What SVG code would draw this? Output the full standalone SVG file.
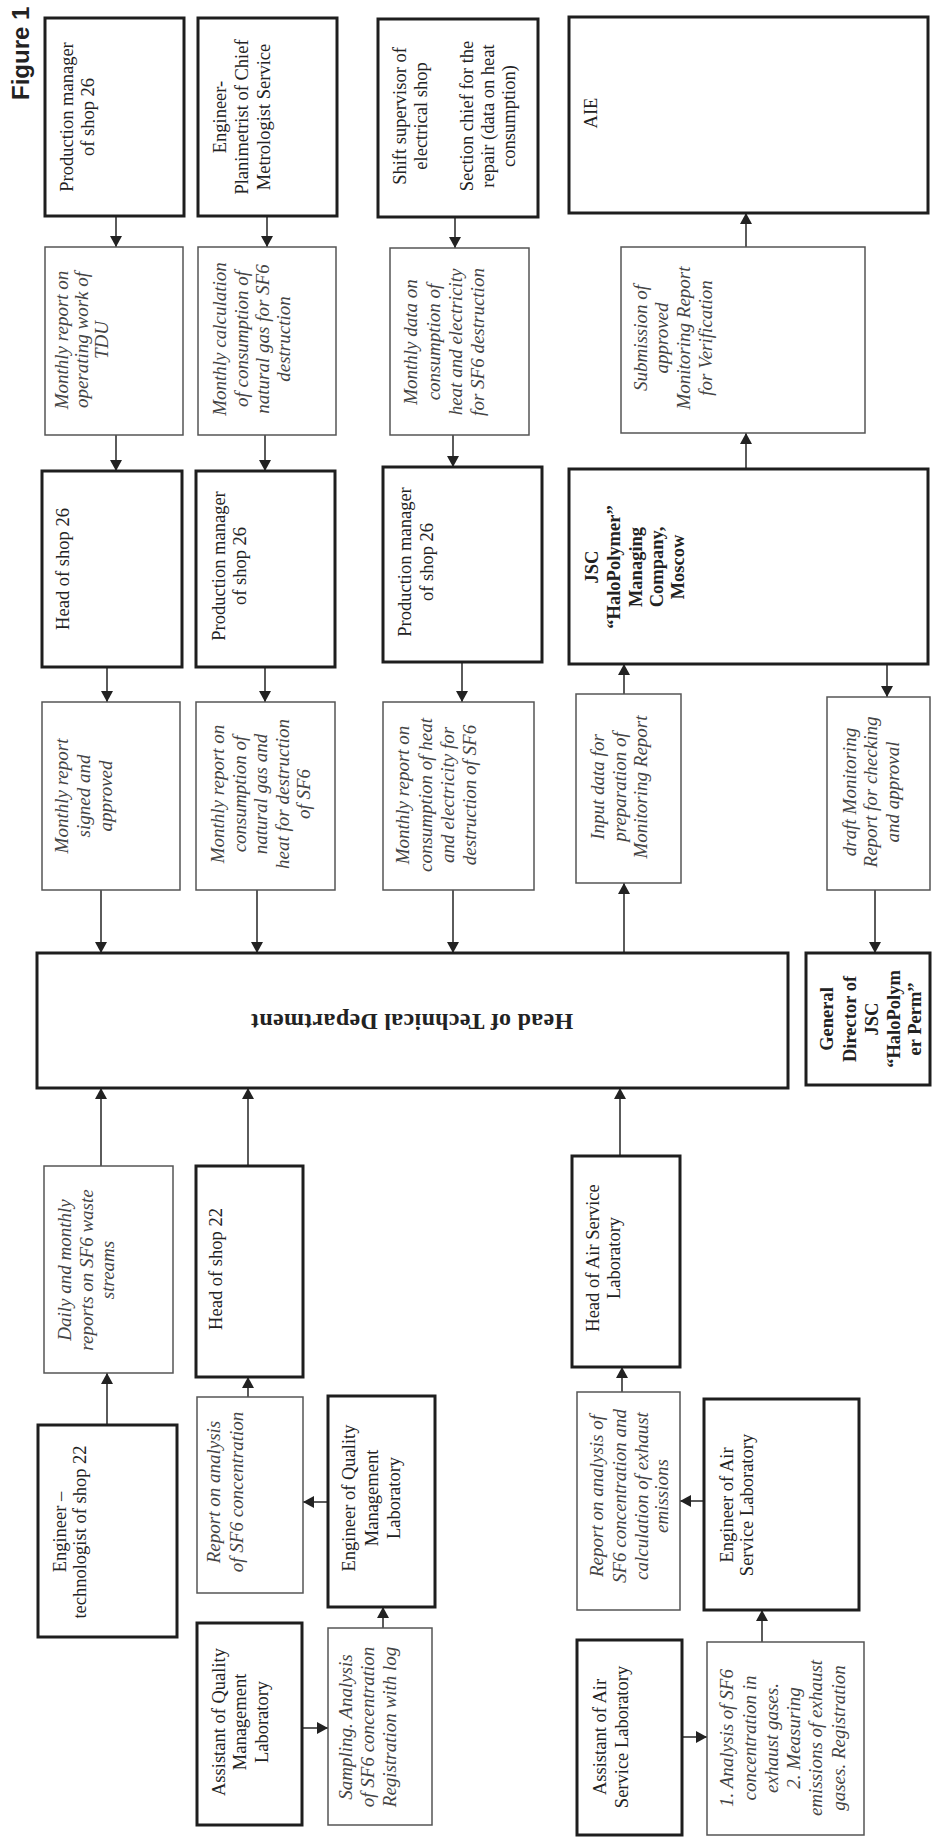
<svg xmlns="http://www.w3.org/2000/svg" width="934" height="1841" viewBox="0 0 934 1841">
<style>
rect{fill:#fff}
.k{stroke:#1e1e1e;stroke-width:3}
.t{stroke:#555;stroke-width:1.5}
text{font-family:"Liberation Serif",serif;text-anchor:middle}
.u{font-size:18.5px;fill:#222}
.i{font-size:19px;font-style:italic;fill:#444}
.b{font-size:18.5px;font-weight:bold;fill:#222}
.c line{stroke:#333;stroke-width:1.6;marker-end:url(#ah)}
</style>
<defs>
<marker id="ah" markerUnits="userSpaceOnUse" markerWidth="12" markerHeight="12" refX="11" refY="6" orient="auto">
<path d="M0,0 L11,6 L0,12 z" fill="#222"/>
</marker>
</defs>
<rect x="0" y="0" width="934" height="1841" style="fill:#fff"/>
<text transform="translate(29,100) rotate(-90)" style="font-family:'Liberation Sans',sans-serif;font-weight:bold;font-size:24px;text-anchor:start;fill:#222">Figure 1</text>

<g id="connectors" class="c">
<line x1="116" y1="216" x2="116" y2="247"/>
<line x1="267" y1="216" x2="267" y2="247"/>
<line x1="455" y1="217" x2="455" y2="248"/>
<line x1="746" y1="247" x2="746" y2="213"/>
<line x1="116" y1="435" x2="116" y2="471"/>
<line x1="265" y1="435" x2="265" y2="471"/>
<line x1="453" y1="435" x2="453" y2="467"/>
<line x1="746" y1="469" x2="746" y2="433"/>
<line x1="107" y1="667" x2="107" y2="702"/>
<line x1="265" y1="667" x2="265" y2="702"/>
<line x1="462" y1="662" x2="462" y2="702"/>
<line x1="624" y1="694" x2="624" y2="664"/>
<line x1="887" y1="664" x2="887" y2="697"/>
<line x1="101" y1="890" x2="101" y2="953"/>
<line x1="257" y1="890" x2="257" y2="953"/>
<line x1="453" y1="890" x2="453" y2="953"/>
<line x1="624" y1="953" x2="624" y2="883"/>
<line x1="875" y1="890" x2="875" y2="953"/>
<line x1="101" y1="1166" x2="101" y2="1088"/>
<line x1="248" y1="1166" x2="248" y2="1088"/>
<line x1="620" y1="1156" x2="620" y2="1088"/>
<line x1="107" y1="1425" x2="107" y2="1373"/>
<line x1="248" y1="1397" x2="248" y2="1377"/>
<line x1="328" y1="1502" x2="303" y2="1502"/>
<line x1="302" y1="1728" x2="328" y2="1728"/>
<line x1="383" y1="1628" x2="383" y2="1607"/>
<line x1="622" y1="1392" x2="622" y2="1367"/>
<line x1="704" y1="1501" x2="680" y2="1501"/>
<line x1="682" y1="1737" x2="707" y2="1737"/>
<line x1="762" y1="1642" x2="762" y2="1610"/>
</g>

<g id="pm26a"><rect class="k" x="45" y="18" width="139" height="198"/>
<text class="u" transform="translate(0,117) rotate(-90)"><tspan x="0" y="73">Production manager</tspan><tspan x="0" y="94">of shop 26</tspan></text></g>
<g id="engplan"><rect class="k" x="198" y="18" width="139" height="198"/>
<text class="u" transform="translate(0,117) rotate(-90)"><tspan x="0" y="226">Engineer-</tspan><tspan x="0" y="248">Planimetrist of Chief</tspan><tspan x="0" y="270">Metrologist Service</tspan></text></g>
<g id="shift"><rect class="k" x="378" y="19" width="160" height="198"/>
<text class="u" transform="translate(0,116) rotate(-90)"><tspan x="0" y="406">Shift supervisor of</tspan><tspan x="0" y="427">electrical shop</tspan><tspan x="0" y="473">Section chief for the</tspan><tspan x="0" y="494">repair (data on heat</tspan><tspan x="0" y="515">consumption)</tspan></text></g>
<g id="aie"><rect class="k" x="569" y="17" width="359" height="196"/>
<text class="u" transform="translate(0,113) rotate(-90)"><tspan x="0" y="597">AIE</tspan></text></g>

<g id="rep-tdu"><rect class="t" x="45" y="247" width="138" height="188"/>
<text class="i" transform="translate(0,340) rotate(-90)"><tspan x="0" y="68">Monthly report on</tspan><tspan x="0" y="88">operating work of</tspan><tspan x="0" y="108">TDU</tspan></text></g>
<g id="rep-calc"><rect class="t" x="198" y="247" width="138" height="188"/>
<text class="i" transform="translate(0,339) rotate(-90)"><tspan x="0" y="226">Monthly calculation</tspan><tspan x="0" y="248">of consumption of</tspan><tspan x="0" y="269">natural gas for SF6</tspan><tspan x="0" y="290">destruction</tspan></text></g>
<g id="rep-data"><rect class="t" x="390" y="248" width="139" height="187"/>
<text class="i" transform="translate(0,342) rotate(-90)"><tspan x="0" y="417">Monthly data on</tspan><tspan x="0" y="440">consumption of</tspan><tspan x="0" y="462">heat and electricity</tspan><tspan x="0" y="484">for SF6 destruction</tspan></text></g>
<g id="rep-submit"><rect class="t" x="621" y="247" width="244" height="186"/>
<text class="i" transform="translate(0,338) rotate(-90)"><tspan x="0" y="647">Submission of</tspan><tspan x="0" y="668">approved</tspan><tspan x="0" y="690">Monitoring Report</tspan><tspan x="0" y="712">for Verification</tspan></text></g>

<g id="head26"><rect class="k" x="42" y="471" width="140" height="196"/>
<text class="u" transform="translate(0,569) rotate(-90)"><tspan x="0" y="69">Head of shop 26</tspan></text></g>
<g id="pm26b"><rect class="k" x="196" y="471" width="139" height="196"/>
<text class="u" transform="translate(0,566) rotate(-90)"><tspan x="0" y="225">Production manager</tspan><tspan x="0" y="246">of shop 26</tspan></text></g>
<g id="pm26c"><rect class="k" x="383" y="467" width="159" height="195"/>
<text class="u" transform="translate(0,562) rotate(-90)"><tspan x="0" y="411">Production manager</tspan><tspan x="0" y="433">of shop 26</tspan></text></g>
<g id="jsc"><rect class="k" x="569" y="469" width="359" height="195"/>
<text class="b" transform="translate(0,567) rotate(-90)"><tspan x="0" y="598">JSC</tspan><tspan x="0" y="620">“HaloPolymer”</tspan><tspan x="0" y="642">Managing</tspan><tspan x="0" y="663">Company,</tspan><tspan x="0" y="684">Moscow</tspan></text></g>

<g id="rep-signed"><rect class="t" x="42" y="702" width="138" height="188"/>
<text class="i" transform="translate(0,796) rotate(-90)"><tspan x="0" y="68">Monthly report</tspan><tspan x="0" y="90">signed and</tspan><tspan x="0" y="112">approved</tspan></text></g>
<g id="rep-gas"><rect class="t" x="196" y="702" width="139" height="188"/>
<text class="i" transform="translate(0,794) rotate(-90)"><tspan x="0" y="224">Monthly report on</tspan><tspan x="0" y="246">consumption of</tspan><tspan x="0" y="267">natural gas and</tspan><tspan x="0" y="289">heat for destruction</tspan><tspan x="0" y="310">of SF6</tspan></text></g>
<g id="rep-heat"><rect class="t" x="383" y="702" width="151" height="188"/>
<text class="i" transform="translate(0,795) rotate(-90)"><tspan x="0" y="409">Monthly report on</tspan><tspan x="0" y="432">consumption of heat</tspan><tspan x="0" y="454">and electricity for</tspan><tspan x="0" y="476">destruction of SF6</tspan></text></g>
<g id="rep-input"><rect class="t" x="576" y="694" width="105" height="189"/>
<text class="i" transform="translate(0,787) rotate(-90)"><tspan x="0" y="604">Input data for</tspan><tspan x="0" y="626">preparation of</tspan><tspan x="0" y="647">Monitoring Report</tspan></text></g>
<g id="rep-draft"><rect class="t" x="827" y="697" width="103" height="193"/>
<text class="i" transform="translate(0,792) rotate(-90)"><tspan x="0" y="856">draft Monitoring</tspan><tspan x="0" y="877">Report for checking</tspan><tspan x="0" y="899">and approval</tspan></text></g>

<g id="htd"><rect class="k" x="37" y="953" width="751" height="135"/>
<text transform="translate(412,1014) rotate(180)" style="font-size:24px;font-weight:bold;fill:#222;letter-spacing:0.3px">Head of Technical Department</text></g>
<g id="gd"><rect class="k" x="806" y="953" width="124" height="132"/>
<text class="b" transform="translate(0,1019) rotate(-90)"><tspan x="0" y="833">General</tspan><tspan x="0" y="856">Director of</tspan><tspan x="0" y="878">JSC</tspan><tspan x="0" y="900">“HaloPolym</tspan><tspan x="0" y="921">er Perm”</tspan></text></g>

<g id="rep-daily"><rect class="t" x="44" y="1166" width="129" height="207"/>
<text class="i" transform="translate(0,1270) rotate(-90)"><tspan x="0" y="71">Daily and monthly</tspan><tspan x="0" y="93">reports on SF6 waste</tspan><tspan x="0" y="114">streams</tspan></text></g>
<g id="head22"><rect class="k" x="196" y="1166" width="107" height="211"/>
<text class="u" transform="translate(0,1269) rotate(-90)"><tspan x="0" y="222">Head of shop 22</tspan></text></g>
<g id="headair"><rect class="k" x="572" y="1156" width="108" height="211"/>
<text class="u" transform="translate(0,1258) rotate(-90)"><tspan x="0" y="599">Head of Air Service</tspan><tspan x="0" y="620">Laboratory</tspan></text></g>

<g id="engtech"><rect class="k" x="38" y="1425" width="139" height="212"/>
<text class="u" transform="translate(0,1532) rotate(-90)"><tspan x="0" y="66">Engineer –</tspan><tspan x="0" y="86">technologist of shop 22</tspan></text></g>
<g id="rep-qml"><rect class="t" x="197" y="1397" width="106" height="196"/>
<text class="i" transform="translate(0,1492) rotate(-90)"><tspan x="0" y="220">Report on analysis</tspan><tspan x="0" y="243">of SF6 concentration</tspan></text></g>
<g id="assistqml"><rect class="k" x="197" y="1623" width="105" height="202"/>
<text class="u" transform="translate(0,1722) rotate(-90)"><tspan x="0" y="225">Assistant of Quality</tspan><tspan x="0" y="246">Management</tspan><tspan x="0" y="268">Laboratory</tspan></text></g>
<g id="engqml"><rect class="k" x="328" y="1396" width="107" height="211"/>
<text class="u" transform="translate(0,1498) rotate(-90)"><tspan x="0" y="355">Engineer of Quality</tspan><tspan x="0" y="378">Management</tspan><tspan x="0" y="400">Laboratory</tspan></text></g>
<g id="rep-sampling"><rect class="t" x="328" y="1628" width="104" height="197"/>
<text class="i" transform="translate(0,1727) rotate(-90)"><tspan x="0" y="352">Sampling. Analysis</tspan><tspan x="0" y="374">of SF6 concentration</tspan><tspan x="0" y="396">Registration with log</tspan></text></g>
<g id="rep-air"><rect class="t" x="577" y="1392" width="103" height="218"/>
<text class="i" transform="translate(0,1496) rotate(-90)"><tspan x="0" y="603">Report on analysis of</tspan><tspan x="0" y="626">SF6 concentration and</tspan><tspan x="0" y="648">calculation of exhaust</tspan><tspan x="0" y="668">emissions</tspan></text></g>
<g id="assistair"><rect class="k" x="577" y="1640" width="105" height="195"/>
<text class="u" transform="translate(0,1737) rotate(-90)"><tspan x="0" y="606">Assistant of Air</tspan><tspan x="0" y="628">Service Laboratory</tspan></text></g>
<g id="engair"><rect class="k" x="704" y="1399" width="155" height="211"/>
<text class="u" transform="translate(0,1505) rotate(-90)"><tspan x="0" y="733">Engineer of Air</tspan><tspan x="0" y="753">Service Laboratory</tspan></text></g>
<g id="rep-analysis"><rect class="t" x="707" y="1642" width="157" height="193"/>
<text class="i" transform="translate(0,1738) rotate(-90)"><tspan x="0" y="733">1. Analysis of SF6</tspan><tspan x="0" y="756">concentration in</tspan><tspan x="0" y="778">exhaust gases.</tspan><tspan x="0" y="800">2. Measuring</tspan><tspan x="0" y="822">emissions of exhaust</tspan><tspan x="0" y="845">gases. Registration</tspan></text></g>
</svg>
